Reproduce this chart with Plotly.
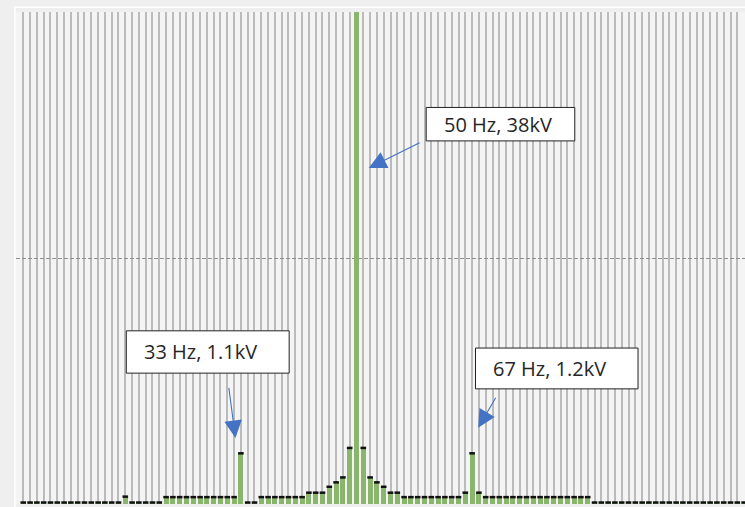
import plotly.graph_objects as go

freqs = list(range(1, 108))
values = (
    [0.03] * 15 + [0.15] + [0.03] * 5 + [0.14] * 11 + [1.03] + [0.03] * 2
    + [0.14] * 7 + [0.23] * 3 + [0.35, 0.44, 0.54, 1.14, 38.0, 1.14, 0.54, 0.44, 0.35]
    + [0.23] * 2 + [0.14] * 9 + [0.23, 1.03, 0.23] + [0.14] * 16 + [0.03] * 23
)
y_max = 10
grid_levels = [5]

labels = ["50 Hz, 38kV", "33 Hz, 1.1kV", "67 Hz, 1.2kV"]

fig = go.Figure()
fig.add_trace(go.Bar(
    x=freqs, y=values, width=0.74,
    marker=dict(color="#8ab56d", line=dict(width=0)),
    hoverinfo="skip",
))
fig.add_trace(go.Scatter(
    x=freqs, y=values, mode="markers", cliponaxis=False,
    marker=dict(symbol="line-ew", size=4, line=dict(width=2.5, color="#111111")),
    hoverinfo="skip",
))

# annotation boxes (data coords)
boxes = [
    (60.25, 82.1, 7.38, 8.06),
    (16.15, 40.1, 2.66, 3.52),
    (67.5, 91.4, 2.34, 3.17),
]
text_pos = [(62.6, 7.72), (18.4, 3.09), (69.8, 2.75)]
arrows = [
    # (tail_x, tail_y, head_x, head_y)
    (59.5, 7.36, 51.8, 6.83),
    (31.2, 2.39, 32.2, 1.34),
    (70.6, 2.19, 67.9, 1.55),
]

for (x0, x1, y0, y1) in boxes:
    fig.add_shape(type="rect", xref="x", yref="y", x0=x0, x1=x1, y0=y0, y1=y1,
                  fillcolor="white", line=dict(color="#222222", width=1), layer="above")

for lab, (tx, ty) in zip(labels, text_pos):
    fig.add_annotation(x=tx, y=ty, xref="x", yref="y", text=lab, showarrow=False,
                       xanchor="left", yanchor="middle",
                       font=dict(family="Open Sans", size=20, color="#262626"))

for (ax, ay, hx, hy) in arrows:
    fig.add_annotation(x=hx, y=hy, ax=ax, ay=ay, xref="x", yref="y", axref="x", ayref="y",
                       text="", showarrow=True, arrowhead=2, arrowsize=3.2, arrowwidth=1.1,
                       arrowcolor="#4472c4", standoff=0, startstandoff=0)

# outer chart-area border (white)
fig.add_shape(type="path", xref="paper", yref="paper",
              path="M -0.0014,-0.02 L -0.0014,1.0095 L 1.02,1.0095",
              line=dict(color="#ffffff", width=1.5))

fig.update_layout(
    width=745, height=507,
    margin=dict(l=16, r=0, t=12, b=3),
    paper_bgcolor="#efefef",
    plot_bgcolor="#f4f4f4",
    showlegend=False,
    bargap=0,
    barmode="overlay",
    xaxis=dict(range=[-0.07, 107.13], tickvals=freqs, showticklabels=False, ticks="",
               showgrid=True, gridcolor="#bbbbbb", gridwidth=2, zeroline=False, showline=False),
    yaxis=dict(range=[0, y_max], tickvals=grid_levels, showticklabels=False, ticks="",
               showgrid=True, gridcolor="#8f8f8f", gridwidth=1.2, griddash="4px,2px",
               zeroline=False, showline=False),
)

fig.write_html(
    "out.html",
    config={"displayModeBar": False},
    post_script="document.body.style.margin='0';document.body.style.overflow='hidden';"
                "document.body.style.background='#efefef';",
)
